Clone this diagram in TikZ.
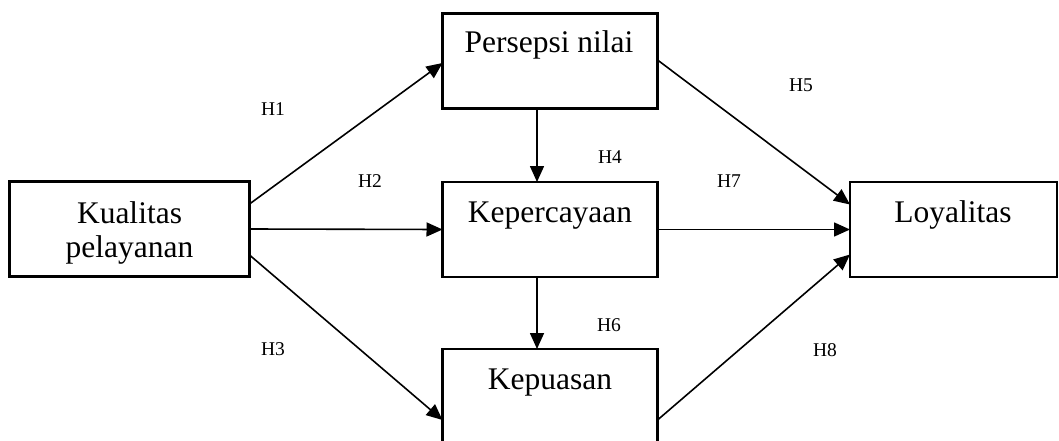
\documentclass[tikz,border=0pt]{standalone}
\usepackage{fontspec}
\setmainfont{Liberation Serif}
\usetikzlibrary{arrows.meta}
\tikzset{
  box/.style={draw, line width=2.2pt, rectangle, inner sep=0pt, outer sep=0pt},
  boxtxt/.style={font=\fontsize{31.5}{34}\selectfont, anchor=base, inner sep=0pt},
  hlbl/.style={font=\fontsize{19.5}{22}\selectfont, anchor=base, inner sep=0pt},
  conn/.style={line width=1.6pt, -{Triangle[length=16pt,width=14pt]}}
}
\begin{document}
\begin{tikzpicture}[x=1pt,y=-1pt]
\useasboundingbox (0,0) rectangle (1059,441);
\clip (0,0) rectangle (1059,441);
\fill[white] (0,0) rectangle (1059,441);
% boxes
\node[box, minimum width=240pt, minimum height=95pt] (kp)  at (129.5,229) {};
\node[box, minimum width=215pt, minimum height=95pt] (pn)  at (550,61) {};
\node[box, minimum width=215pt, minimum height=95pt] (kep) at (550,229.5) {};
\node[box, minimum width=215pt, minimum height=96pt] (kps) at (550,397) {};
\node[box, minimum width=207pt, minimum height=95pt] (loy) at (953.5,229.5) {};
% box texts
\node[boxtxt] (tkp1) at (129.5,223) {Kualitas};
\node[boxtxt] (tkp2) at (129.5,257) {pelayanan};
\node[boxtxt] (tpn)  at (549,53) {Persepsi nilai};
\node[boxtxt] (tkep) at (550,222) {Kepercayaan};
\node[boxtxt] (tkps) at (550,389) {Kepuasan};
\node[boxtxt] (tloy) at (953,222) {Loyalitas};
% connectors
\draw[conn] ([yshift=25pt]kp.east) -- ([yshift=-2pt]pn.west);
\draw[conn] (kp.east) -- (kep.west);
\draw[conn] ([yshift=-26pt]kp.east) -- ([yshift=-23pt]kps.west);
\draw[conn] ([xshift=-13pt]pn.south) -- ([xshift=-13pt]kep.north);
\draw[conn] ([xshift=-13pt]kep.south) -- ([xshift=-13pt]kps.north);
\draw[conn] ([yshift=1pt]pn.east) -- ([yshift=25pt]loy.west);
\draw[conn] (kep.east) -- (loy.west);
\draw[conn] ([yshift=-23pt]kps.east) -- ([yshift=-25pt]loy.west);
% hypothesis labels
\node[hlbl] (h1) at (273,115) {H1};
\node[hlbl] (h2) at (370,187) {H2};
\node[hlbl] (h3) at (273,355) {H3};
\node[hlbl] (h4) at (610,163) {H4};
\node[hlbl] (h5) at (801,92) {H5};
\node[hlbl] (h6) at (609,331) {H6};
\node[hlbl] (h7) at (729,187) {H7};
\node[hlbl] (h8) at (825,356) {H8};
\end{tikzpicture}
\end{document}
